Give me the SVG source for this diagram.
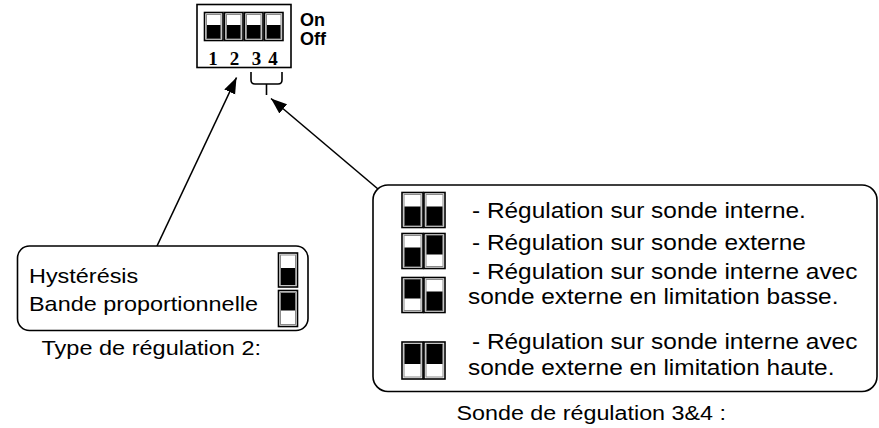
<svg xmlns="http://www.w3.org/2000/svg" width="879" height="428" viewBox="0 0 879 428">
<style>
  .box{fill:#fff;stroke:#000;stroke-width:1.6}
  .sw{fill:#fff;stroke:#000;stroke-width:1.6}
  .swi{fill:none;stroke:#8a8a8a;stroke-width:1}
  .knob{fill:#000}
  .t{font-family:"Liberation Sans",Arial,sans-serif;font-size:21px;fill:#000}
  .tr{font-family:"Liberation Sans",Arial,sans-serif;font-size:22px;fill:#000}
  .b{font-family:"Liberation Sans",Arial,sans-serif;font-size:18px;font-weight:bold;fill:#000}
  .n{font-family:"Liberation Serif","Times New Roman",serif;font-size:19px;font-weight:bold;fill:#000;text-anchor:middle}
  .con{fill:none;stroke:#000;stroke-width:1.6}
</style>
<defs>
  <marker id="ah" markerUnits="userSpaceOnUse" markerWidth="18" markerHeight="14" viewBox="0 0 18 14" refX="16" refY="7" orient="auto">
    <path d="M0,1 L16,7 L0,13 z" fill="#000"/>
  </marker>
</defs>

<g id="dip-switch">
  <rect class="box" x="197" y="4.5" width="94" height="63"/>
  <rect class="sw" x="204.5" y="12.5" width="18.5" height="28"/>
  <rect class="swi" x="206.5" y="14.5" width="14.5" height="24"/>
  <rect class="knob" x="207" y="25" width="13.5" height="13.5"/>
  <rect class="sw" x="224.5" y="12.5" width="18.5" height="28"/>
  <rect class="swi" x="226.5" y="14.5" width="14.5" height="24"/>
  <rect class="knob" x="227" y="25" width="13.5" height="13.5"/>
  <rect class="sw" x="244.5" y="12.5" width="18.5" height="28"/>
  <rect class="swi" x="246.5" y="14.5" width="14.5" height="24"/>
  <rect class="knob" x="247" y="25" width="13.5" height="13.5"/>
  <rect class="sw" x="264.5" y="12.5" width="18.5" height="28"/>
  <rect class="swi" x="266.5" y="14.5" width="14.5" height="24"/>
  <rect class="knob" x="267" y="25" width="13.5" height="13.5"/>
  <text class="n" x="213" y="65">1</text>
  <text class="n" x="234.5" y="65">2</text>
  <text class="n" x="256.5" y="65">3</text>
  <text class="n" x="273" y="65">4</text>
  <text class="b" x="300" y="26">On</text>
  <text class="b" x="300" y="45">Off</text>
  <path class="con" d="M251,72 V80 Q251,84 255,84 H278 Q282,84 282,80 V72 M266.5,84 V95"/>
</g>

<g id="connectors">
  <line class="con" x1="157" y1="246" x2="236.5" y2="77.5" marker-end="url(#ah)"/>
  <line class="con" x1="378" y1="189" x2="271" y2="98.5" marker-end="url(#ah)"/>
</g>

<g id="type-regulation">
  <rect class="box" x="17.5" y="246" width="290.5" height="84.5" rx="12" ry="12"/>
  <text class="t" transform="translate(29,283) scale(1.115,1)">Hystérésis</text>
  <text class="t" transform="translate(29,311) scale(1.115,1)">Bande proportionnelle</text>
  <rect class="sw" x="278.5" y="253" width="19" height="34"/>
  <rect class="swi" x="280.5" y="255" width="15" height="30"/>
  <rect class="knob" x="281" y="268" width="14" height="17"/>
  <rect class="sw" x="278.5" y="290.5" width="19" height="36"/>
  <rect class="swi" x="280.5" y="292.5" width="15" height="32"/>
  <rect class="knob" x="281" y="293" width="14" height="17.5"/>
  <text class="t" transform="translate(41.5,355) scale(1.12,1)">Type de régulation 2:</text>
</g>

<g id="sonde-regulation">
  <rect class="box" x="373" y="185" width="504" height="206.5" rx="15" ry="15"/>
  <!-- row 1 -->
  <rect class="sw" x="402" y="192.5" width="21" height="35"/>
  <rect class="swi" x="404" y="194.5" width="17" height="31"/>
  <rect class="knob" x="404.5" y="206.5" width="16" height="19"/>
  <rect class="sw" x="424" y="192.5" width="21" height="35"/>
  <rect class="swi" x="426" y="194.5" width="17" height="31"/>
  <rect class="knob" x="426.5" y="206.5" width="16" height="19"/>
  <!-- row 2 -->
  <rect class="sw" x="402" y="233.5" width="21" height="35"/>
  <rect class="swi" x="404" y="235.5" width="17" height="31"/>
  <rect class="knob" x="404.5" y="247.5" width="16" height="19"/>
  <rect class="sw" x="424" y="233.5" width="21" height="35"/>
  <rect class="swi" x="426" y="235.5" width="17" height="31"/>
  <rect class="knob" x="426.5" y="235.5" width="16" height="19"/>
  <!-- row 3 -->
  <rect class="sw" x="402" y="277.5" width="21" height="35"/>
  <rect class="swi" x="404" y="279.5" width="17" height="31"/>
  <rect class="knob" x="404.5" y="279.5" width="16" height="19"/>
  <rect class="sw" x="424" y="277.5" width="21" height="35"/>
  <rect class="swi" x="426" y="279.5" width="17" height="31"/>
  <rect class="knob" x="426.5" y="291.5" width="16" height="19"/>
  <!-- row 4 -->
  <rect class="sw" x="402" y="342" width="21" height="37"/>
  <rect class="swi" x="404" y="344" width="17" height="33"/>
  <rect class="knob" x="404.5" y="344" width="16" height="20"/>
  <rect class="sw" x="424" y="342" width="21" height="37"/>
  <rect class="swi" x="426" y="344" width="17" height="33"/>
  <rect class="knob" x="426.5" y="344" width="16" height="20"/>
  <text class="tr" transform="translate(472,218) scale(1.11,1)">- Régulation sur sonde interne.</text>
  <text class="tr" transform="translate(472,250) scale(1.11,1)">- Régulation sur sonde externe</text>
  <text class="tr" transform="translate(472,279) scale(1.11,1)">- Régulation sur sonde interne avec</text>
  <text class="tr" transform="translate(468,304) scale(1.11,1)">sonde externe en limitation basse.</text>
  <text class="tr" transform="translate(472,349) scale(1.11,1)">- Régulation sur sonde interne avec</text>
  <text class="tr" transform="translate(468,375) scale(1.11,1)">sonde externe en limitation haute.</text>
  <text class="t" transform="translate(456.5,420) scale(1.11,1)">Sonde de régulation 3&amp;4 :</text>
</g>
</svg>
